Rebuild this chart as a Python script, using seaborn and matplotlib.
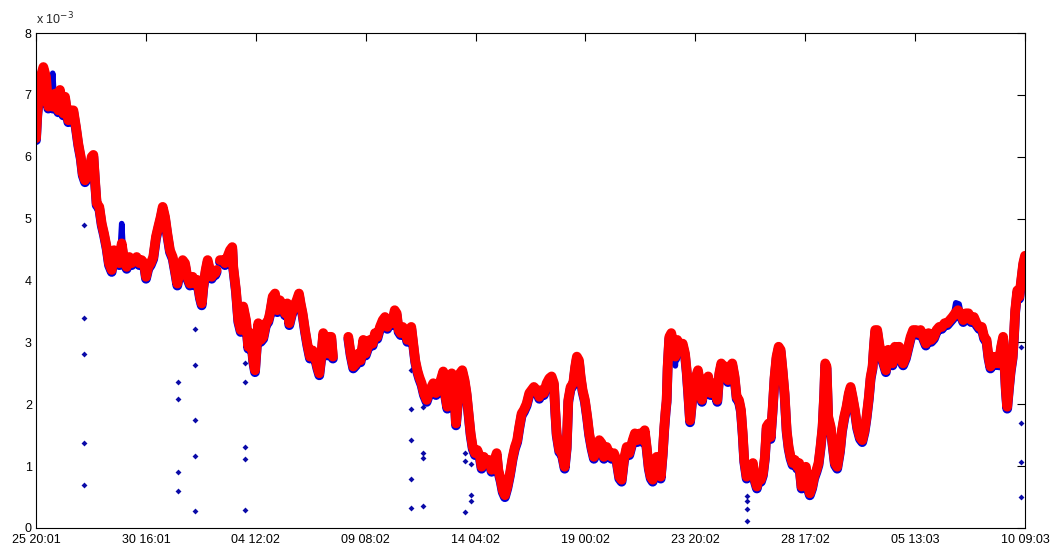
import matplotlib
matplotlib.use("Agg")
import numpy as np
import pandas as pd
import matplotlib.pyplot as plt
import matplotlib.transforms as mtransforms
import seaborn as sns

# x in tick intervals (0 = "25 20:01", 9 = "10 09:03"), y in units of 1e-3
# NaN marks a gap in the record
trace_x = [
    0.0, 0.012, 0.043, 0.067, 0.091, 0.112, 0.127, 0.152, 0.173, 0.203, 0.218, 0.249, 0.264, 0.294,
    0.316, 0.34, 0.364, 0.385, 0.407, 0.425, 0.446, 0.467, 0.485, 0.507, 0.522, 0.537, 0.552, 0.576,
    0.598, 0.619, 0.643, 0.664, 0.689, 0.71, 0.734, 0.758, 0.78, 0.801, 0.825, 0.849, 0.871, 0.892,
    0.916, 0.94, 0.962, 0.983, 1.001, 1.022, 1.044, 1.067, 1.092, 1.113, 1.135, 1.153, 1.174, 1.195,
    1.219, 1.244, 1.265, 1.286, 1.31, 1.335, 1.356, 1.377, 1.401, 1.426, 1.447, 1.468, 1.492, 1.508,
    1.522, 1.544, 1.562, 1.583, 1.599, 1.614, 1.632, 1.644, np.nan,
    1.674, 1.699, 1.72, 1.741, 1.765, 1.786, 1.795, 1.82, 1.841, 1.863, 1.886, 1.911, 1.932, 1.954,
    1.977, 1.993, 2.008, 2.023, 2.045, 2.068, 2.093, 2.114, 2.129, 2.154, 2.175, 2.196, 2.22, 2.245,
    2.266, 2.287, 2.305, 2.327, 2.348, 2.372, 2.393, 2.408, 2.426, 2.448, 2.469, 2.493, 2.518, 2.539,
    2.56, 2.578, 2.596, 2.614, 2.633, 2.651, 2.669, 2.687, 2.702, np.nan,
    2.842, 2.863, 2.887, 2.912, 2.933, 2.954, 2.978, 3.0, 3.021, 3.039, 3.064, 3.085, 3.106, 3.13,
    3.155, 3.176, 3.197, 3.221, 3.242, 3.264, 3.282, 3.3, 3.318, 3.337, 3.358, 3.379, 3.397, 3.415,
    3.433, 3.451, 3.47, 3.488, 3.509, 3.53, 3.555, 3.585, 3.615, 3.64, 3.661, 3.683, 3.706, 3.722,
    3.743, 3.761, 3.783, 3.803, 3.822, 3.84, 3.858, 3.879, 3.9, 3.918, 3.937, 3.955, 3.974, 3.995,
    4.016, 4.04, 4.055, 4.076, 4.101, 4.125, 4.146, 4.167, 4.192, 4.207, 4.229, 4.247, 4.267, 4.289,
    4.313, 4.338, 4.358, 4.379, 4.398, 4.419, 4.44, 4.465, 4.489, 4.51, 4.531, 4.556, 4.58, 4.601,
    4.622, 4.647, 4.671, 4.692, 4.713, 4.725, 4.738, 4.762, 4.786, 4.811, 4.829, 4.844, 4.865, 4.889,
    4.907, 4.922, 4.941, 4.956, 4.974, 4.995, 5.016, 5.034, 5.056, 5.077, 5.102, 5.126, 5.147, 5.168,
    5.193, 5.217, 5.238, 5.259, 5.284, 5.308, 5.329, 5.35, 5.375, 5.399, 5.43, 5.45, 5.472, 5.497,
    5.521, 5.539, 5.557, 5.576, 5.594, 5.612, 5.63, 5.648, 5.667, 5.685, 5.703, 5.718, 5.73, 5.739,
    5.748, 5.763, 5.781, 5.8, 5.818, 5.836, 5.861, 5.885, 5.906, 5.921, 5.936, 5.952, 5.97, 5.988,
    6.006, 6.024, 6.042, 6.06, 6.079, 6.097, 6.117, 6.139, 6.157, 6.178, 6.2, 6.218, 6.236, 6.254,
    6.276, 6.297, 6.315, 6.336, 6.357, 6.376, 6.397, 6.415, 6.431, 6.445, 6.467, 6.488, 6.506, 6.524,
    6.542, 6.56, 6.579, 6.597, 6.615, 6.633, 6.649, 6.667, 6.685, 6.703, 6.721, 6.739, 6.758, 6.776,
    6.794, 6.812, 6.831, 6.849, 6.867, 6.885, 6.906, 6.927, 6.945, 6.967, 6.988, 7.006, 7.024, 7.042,
    7.063, 7.081, 7.103, 7.121, 7.139, 7.158, 7.173, 7.182, 7.194, 7.209, 7.231, 7.249, 7.27, 7.291,
    7.316, 7.334, 7.355, 7.376, 7.397, 7.413, 7.431, 7.452, 7.473, 7.498, 7.519, 7.54, 7.558, 7.579,
    7.595, 7.613, 7.625, 7.637, 7.655, 7.673, 7.695, 7.716, 7.734, 7.755, 7.776, 7.794, 7.816, 7.837,
    7.855, 7.873, 7.891, 7.916, 7.937, 7.959, 7.982, 8.007, 8.028, 8.05, 8.073, 8.098, 8.122, 8.146,
    8.171, 8.195, 8.219, 8.243, 8.268, 8.292, 8.316, 8.34, 8.364, 8.389, 8.414, 8.438, 8.462, 8.486,
    8.51, 8.535, 8.559, 8.583, 8.607, 8.628, 8.65, 8.668, 8.686, 8.704, 8.723, 8.741, 8.762, 8.783,
    8.801, 8.814, 8.826, 8.838, 8.854, 8.869, 8.887, 8.899, 8.911, 8.93, 8.948, 8.966, 8.984, 9.0,
]
trace_y = [
    6.30, 6.70, 7.29, 7.45, 7.29, 6.81, 6.97, 6.81, 7.02, 6.75, 7.08, 6.70, 6.97, 6.59,
    6.75, 6.75, 6.48, 6.21, 6.00, 5.73, 5.62, 5.68, 5.78, 6.00, 6.03, 5.62, 5.25, 5.19,
    4.92, 4.76, 4.54, 4.28, 4.17, 4.49, 4.33, 4.28, 4.60, 4.33, 4.22, 4.38, 4.28, 4.33,
    4.38, 4.28, 4.33, 4.28, 4.06, 4.22, 4.28, 4.38, 4.71, 4.87, 5.03, 5.19, 5.03, 4.76,
    4.49, 4.38, 4.17, 3.95, 4.17, 4.33, 4.28, 4.06, 3.95, 4.06, 3.95, 4.01, 3.74, 3.63,
    3.90, 4.17, 4.33, 4.17, 4.06, 4.12, 4.12, 4.17, np.nan,
    4.33, 4.33, 4.28, 4.38, 4.49, 4.54, 4.22, 3.84, 3.36, 3.20, 3.58, 3.36, 2.93, 3.15,
    2.71, 2.55, 2.93, 3.31, 3.04, 3.09, 3.31, 3.36, 3.47, 3.74, 3.79, 3.52, 3.68, 3.58,
    3.47, 3.63, 3.31, 3.47, 3.58, 3.68, 3.79, 3.63, 3.47, 3.20, 2.98, 2.77, 2.87, 2.77,
    2.61, 2.50, 2.77, 3.15, 3.04, 2.82, 3.09, 3.09, 2.77, np.nan,
    3.09, 2.82, 2.61, 2.66, 2.82, 2.71, 3.04, 2.82, 2.93, 3.04, 2.98, 3.15, 3.09, 3.25,
    3.36, 3.41, 3.25, 3.36, 3.31, 3.52, 3.47, 3.20, 3.15, 3.25, 3.20, 3.04, 3.15, 3.25,
    2.98, 2.71, 2.55, 2.44, 2.34, 2.18, 2.07, 2.23, 2.34, 2.18, 2.23, 2.39, 2.53, 2.18,
    1.96, 2.28, 2.50, 2.34, 1.69, 2.07, 2.50, 2.55, 2.39, 2.18, 1.85, 1.53, 1.31, 1.21,
    1.26, 1.15, 0.99, 1.15, 1.05, 1.10, 0.94, 1.05, 1.21, 0.94, 0.78, 0.61, 0.53, 0.67,
    0.88, 1.15, 1.31, 1.42, 1.64, 1.85, 1.91, 2.01, 2.18, 2.23, 2.28, 2.23, 2.12, 2.23,
    2.18, 2.34, 2.42, 2.45, 2.34, 1.91, 1.53, 1.26, 1.21, 0.99, 1.31, 2.07, 2.28, 2.34,
    2.61, 2.77, 2.71, 2.45, 2.23, 2.07, 1.80, 1.53, 1.31, 1.15, 1.26, 1.42, 1.37, 1.15,
    1.31, 1.21, 1.15, 1.21, 1.10, 0.83, 0.78, 1.10, 1.31, 1.21, 1.42, 1.53, 1.42, 1.53,
    1.42, 1.58, 1.31, 0.99, 0.83, 0.78, 0.99, 1.15, 0.99, 0.83, 1.21, 1.64, 1.91, 2.07,
    2.61, 3.09, 3.15, 2.98, 2.77, 3.04, 2.93, 2.98, 2.82, 2.55, 2.18, 1.74, 2.07, 2.34,
    2.45, 2.55, 2.34, 2.07, 2.28, 2.39, 2.45, 2.18, 2.34, 2.23, 2.07, 2.50, 2.66, 2.45,
    2.61, 2.39, 2.61, 2.66, 2.45, 2.12, 2.07, 1.91, 1.53, 1.10, 0.83, 0.88, 0.99, 1.05,
    0.78, 0.67, 0.83, 0.78, 0.88, 1.15, 1.64, 1.69, 1.47, 1.91, 2.44, 2.77, 2.93, 2.88,
    2.55, 2.18, 1.58, 1.31, 1.15, 1.05, 1.10, 0.99, 1.05, 0.67, 0.88, 0.99, 0.67, 0.56,
    0.67, 0.83, 0.94, 1.05, 1.31, 1.64, 2.18, 2.66, 2.61, 1.80, 1.64, 1.37, 1.05, 0.99,
    1.26, 1.58, 1.80, 1.96, 2.18, 2.28, 2.12, 1.91, 1.64, 1.47, 1.42, 1.58, 1.80, 2.12,
    2.44, 2.61, 2.93, 3.20, 3.20, 2.98, 2.77, 2.66, 2.55, 2.88, 2.77, 2.66, 2.93, 2.82,
    2.93, 2.72, 2.66, 2.77, 2.93, 3.09, 3.20, 3.20, 3.15, 3.20, 3.09, 2.98, 3.15, 3.04,
    3.09, 3.20, 3.25, 3.25, 3.31, 3.31, 3.36, 3.41, 3.47, 3.52, 3.47, 3.36, 3.47, 3.47,
    3.36, 3.41, 3.31, 3.25, 3.25, 3.09, 3.04, 2.77, 2.61, 2.77, 2.66, 2.77, 2.66, 2.93,
    3.09, 2.66, 2.23, 1.96, 2.28, 2.55, 2.77, 3.09, 3.52, 3.84, 3.74, 4.01, 4.28, 4.40,
]

# places where the blue record sticks out of the red one
blue_bump_x = [0.138, 0.152, 0.166, np.nan, 0.765, 0.78, 0.795, np.nan,
               5.808, 5.818, 5.828, np.nan, 8.35, 8.37, 8.40, 8.42]
blue_bump_y = [6.95, 7.35, 6.95, np.nan, 4.45, 4.92, 4.45, np.nan,
               2.90, 2.62, 2.90, np.nan, 3.45, 3.64, 3.62, 3.45]

# isolated blue samples below the trace
outlier_x = [0.44, 0.44, 0.44, 0.44, 0.44,
             1.295, 1.295, 1.295, 1.295,
             1.447, 1.447, 1.447, 1.447, 1.447,
             1.902, 1.902, 1.902, 1.902, 1.902,
             3.412, 3.412, 3.412, 3.412, 3.412,
             3.524, 3.524, 3.524, 3.524,
             3.906, 3.906, 3.955, 3.955, 3.955, 3.906,
             6.467, 6.467, 6.467, 6.467,
             8.96, 8.96, 8.96, 8.96]
outlier_y = [4.89, 3.40, 2.81, 1.37, 0.69,
             2.36, 2.08, 0.90, 0.59,
             3.21, 2.64, 1.74, 1.17, 0.28,
             2.67, 2.36, 1.31, 1.11, 0.29,
             2.55, 1.92, 1.43, 0.79, 0.33,
             1.95, 1.21, 1.13, 0.36,
             1.22, 1.09, 1.03, 0.53, 0.44, 0.26,
             0.52, 0.44, 0.31, 0.12,
             2.92, 1.70, 1.06, 0.50]

x_tick_labels = ["25 20:01", "30 16:01", "04 12:02", "09 08:02", "14 04:02",
                 "19 00:02", "23 20:02", "28 17:02", "05 13:03", "10 09:03"]
y_ticks = [0, 1, 2, 3, 4, 5, 6, 7, 8]


def to_segments(xs, ys):
    df = pd.DataFrame({"x": xs, "y": ys})
    df["seg"] = df["x"].isna().cumsum()
    return df.dropna().reset_index(drop=True)


sns.set_theme(style="white")
plt.rcParams["font.family"] = ["Liberation Sans", "DejaVu Sans"]
plt.rcParams.update({
    "xtick.direction": "in", "ytick.direction": "in",
    "xtick.top": True, "ytick.right": True,
    "xtick.major.size": 6, "ytick.major.size": 6,
    "xtick.major.width": 0.8, "ytick.major.width": 0.8,
    "xtick.color": "black", "ytick.color": "black",
})

fig = plt.figure(figsize=(10.6, 5.5), dpi=100)
ax = fig.add_axes([36 / 1060, 1 - 528 / 550, 989 / 1060, 495 / 550])

trace = to_segments(trace_x, trace_y)
bumps = to_segments(blue_bump_x, blue_bump_y)
outliers = pd.DataFrame({"x": outlier_x, "y": outlier_y})

blue = "#0000d8"
shift = mtransforms.offset_copy(ax.transData, fig=fig, x=0, y=-2, units="dots")

# blue record (under the red one)
sns.lineplot(data=trace, x="x", y="y", units="seg", estimator=None, sort=False,
             color=blue, lw=7, transform=shift, ax=ax)
sns.lineplot(data=bumps, x="x", y="y", units="seg", estimator=None, sort=False,
             color=blue, lw=4, ax=ax)
sns.scatterplot(data=outliers, x="x", y="y", marker="D", s=9, color="#0a0aa8",
                linewidth=0, ax=ax)
# red record on top
sns.lineplot(data=trace, x="x", y="y", units="seg", estimator=None, sort=False,
             color="#ff0000", lw=7, ax=ax)

ax.set_xlim(0, 9)
ax.set_ylim(0, 8)
ax.set_xticks(range(len(x_tick_labels)))
ax.set_xticklabels(x_tick_labels, fontsize=9)
ax.set_yticks(y_ticks)
ax.set_yticklabels([str(v) for v in y_ticks], fontsize=9)
ax.tick_params(axis="x", pad=4)
ax.tick_params(axis="y", pad=3)
ax.set_xlabel("")
ax.set_ylabel("")
for s in ax.spines.values():
    s.set_color("black")
    s.set_linewidth(0.8)
ax.text(0.0, 1.012, r"x 10$^{-3}$", transform=ax.transAxes, fontsize=9,
        ha="left", va="bottom")

fig.savefig("out.png", dpi=100, facecolor="white")
